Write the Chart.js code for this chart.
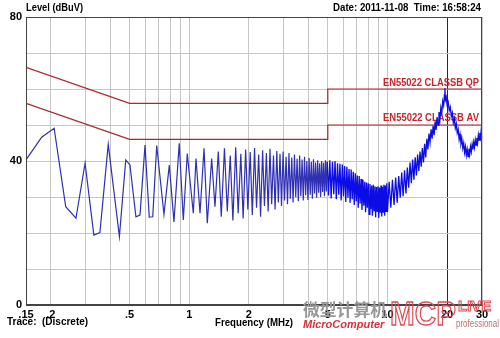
<!DOCTYPE html>
<html>
<head>
<meta charset="utf-8">
<script src="https://cdn.jsdelivr.net/npm/chart.js@4.4.1/dist/chart.umd.min.js"></script>
<style>
  html, body { margin: 0; padding: 0; background: #fff; }
  #c { display: block; }
</style>
</head>
<body>
<canvas id="c" width="500" height="338"></canvas>
<script>
// Trace (MHz, dBuV), rows of 10
const traceFreqs = [
  0.150, 0.180, 0.208, 0.238, 0.268, 0.298, 0.330, 0.354, 0.390, 0.444,
  0.478, 0.502, 0.538, 0.564, 0.598, 0.628, 0.654, 0.685, 0.745, 0.793,
  0.837, 0.890, 0.933, 0.977, 1.048, 1.081, 1.133, 1.187, 1.233, 1.297,
  1.348, 1.401, 1.450, 1.505, 1.555, 1.610, 1.660, 1.715, 1.765, 1.820,
  1.870, 1.925, 1.975, 2.030, 2.080, 2.135, 2.185, 2.240, 2.290, 2.345,
  2.395, 2.450, 2.500, 2.555, 2.605, 2.660, 2.710, 2.765, 2.815, 2.870,
  2.920, 2.975, 3.025, 3.080, 3.130, 3.185, 3.235, 3.290, 3.340, 3.395,
  3.445, 3.500, 3.550, 3.605, 3.655, 3.710, 3.760, 3.815, 3.865, 3.920,
  3.970, 4.025, 4.075, 4.130, 4.180, 4.235, 4.285, 4.340, 4.390, 4.445,
  4.495, 4.550, 4.600, 4.655, 4.705, 4.760, 4.810, 4.865, 4.915, 4.970,
  5.04, 5.12, 5.20, 5.28, 5.36, 5.44, 5.52, 5.60, 5.68, 5.76,
  5.84, 5.92, 6.00, 6.08, 6.16, 6.24, 6.32, 6.40, 6.48, 6.56,
  6.64, 6.72, 6.80, 6.88, 6.96, 7.04, 7.12, 7.20, 7.28, 7.36,
  7.44, 7.52, 7.60, 7.68, 7.76, 7.84, 7.92, 8.00, 8.08, 8.16,
  8.24, 8.32, 8.40, 8.48, 8.56, 8.64, 8.72, 8.80, 8.88, 8.96,
  9.04, 9.12, 9.20, 9.28, 9.36, 9.44, 9.52, 9.60, 9.68, 9.76,
  9.84, 9.92, 10.0, 10.2, 10.4, 10.6, 10.8, 11.0, 11.2, 11.4,
  11.6, 11.8, 12.0, 12.2, 12.4, 12.6, 12.8, 13.0, 13.2, 13.4,
  13.6, 13.8, 14.0, 14.2, 14.4, 14.6, 14.8, 15.0, 15.2, 15.4,
  15.6, 15.8, 16.0, 16.2, 16.4, 16.6, 16.8, 17.0, 17.2, 17.4,
  17.6, 17.8, 18.0, 18.2, 18.4, 18.6, 18.8, 19.0, 19.2, 19.4,
  19.5, 19.6, 19.8, 20.0, 20.25, 20.5, 20.75, 21.0, 21.25, 21.5,
  21.75, 22.0, 22.25, 22.5, 22.75, 23.0, 23.25, 23.5, 23.75, 24.0,
  24.25, 24.5, 24.75, 25.0, 25.25, 25.5, 25.75, 26.0, 26.25, 26.5,
  26.75, 27.0, 27.25, 27.5, 27.75, 28.0, 28.25, 28.5, 28.75, 29.0,
  29.25, 29.5, 29.75, 30.0
];
const traceLevels = [
  40.3, 46.6, 49.1, 27.3, 24.1, 39.4, 19.4, 20.1, 44.6, 19.0,
  40.3, 38.9, 24.5, 25.0, 44.4, 24.4, 24.5, 44.3, 25.2, 38.9,
  23.1, 44.9, 23.6, 42.1, 25.5, 40.7, 25.5, 43.5, 22.7, 40.7,
  27.3, 42.6, 24.5, 43.5, 26.0, 41.5, 23.5, 43.8, 25.5, 42.0,
  24.0, 43.2, 26.5, 42.5, 25.0, 43.6, 27.0, 41.8, 24.5, 43.0,
  27.5, 42.2, 26.0, 43.4, 28.0, 41.5, 26.5, 42.8, 28.5, 42.0,
  27.5, 42.6, 29.0, 41.2, 28.0, 42.2, 29.5, 41.0, 28.5, 41.8,
  30.0, 40.6, 28.8, 41.5, 30.2, 40.4, 29.0, 41.2, 30.5, 40.0,
  29.2, 40.8, 30.6, 39.8, 29.5, 40.5, 31.0, 39.6, 29.8, 40.2,
  31.2, 39.4, 30.0, 40.0, 31.4, 39.5, 30.2, 40.2, 31.5, 39.8,
  30.4, 40.2, 29.6, 39.8, 30.8, 40.0, 29.4, 39.4, 30.6, 39.2,
  29.0, 39.0, 30.2, 38.6, 28.6, 38.4, 29.8, 37.8, 28.4, 37.6,
  29.4, 37.0, 27.8, 36.6, 28.8, 36.0, 27.0, 35.8, 28.2, 35.0,
  26.4, 34.8, 27.6, 34.2, 25.8, 34.0, 27.0, 33.8, 25.2, 33.6,
  26.6, 33.2, 24.8, 33.4, 26.2, 33.0, 24.4, 32.8, 26.0, 33.0,
  24.2, 32.6, 25.6, 33.2, 24.6, 32.8, 25.8, 33.4, 24.8, 33.2,
  26.0, 33.8, 25.8, 34.2, 27.0, 34.8, 27.8, 35.4, 28.4, 35.8,
  29.8, 36.8, 30.2, 37.4, 31.0, 38.2, 32.6, 39.6, 33.8, 40.4,
  34.8, 41.0, 36.0, 41.8, 37.2, 42.6, 38.4, 43.6, 39.6, 44.8,
  41.0, 46.2, 43.2, 47.6, 45.2, 48.8, 46.2, 49.8, 47.2, 51.0,
  48.6, 52.2, 50.0, 53.6, 51.6, 54.8, 53.4, 56.6, 55.4, 58.4,
  60.2, 57.0, 57.8, 55.6, 56.4, 54.0, 55.0, 52.4, 53.4, 50.6,
  51.8, 49.2, 50.4, 47.8, 48.8, 46.0, 47.4, 44.8, 46.0, 43.6,
  45.0, 42.4, 44.0, 41.6, 43.2, 41.2, 43.4, 41.8, 44.0, 42.6,
  44.6, 43.2, 45.2, 43.8, 45.8, 44.4, 46.4, 45.0, 47.2, 45.8,
  47.8, 46.6, 48.8, 48.0
];
// above this frequency the sweep is drawn as a dense band
const denseFrom = 4.97;

// EN55022 class B limit lines
const limitFreqs = [0.15, 0.5, 5, 5, 30];
const qpLimit = [66, 56, 56, 60, 60];
const avLimit = [56, 46, 46, 50, 50];

// axes
const gridFreqs = [0.15, 0.2, 0.3, 0.4, 0.5, 0.6, 0.7, 0.8, 0.9,
  1, 2, 3, 4, 5, 6, 7, 8, 9, 10, 20, 30];
const xLabelFreqs = [0.15, 0.2, 0.5, 1, 2, 5, 10, 20, 30];
const xLabelText = ['.15', '.2', '.5', '1', '2', '5', '10', '20', '30'];
const yLabelValues = [0, 40, 80];

const FONT = 'Arial, "Liberation Sans", sans-serif';
Chart.defaults.font.family = FONT;

function pts(xs, ys) {
  return xs.map((x, i) => ({ x: x, y: ys[i] }));
}
const tracePts = pts(traceFreqs, traceLevels);

const textPlugin = {
  id: 'texts',
  beforeDatasetsDraw(chart) {
    const ctx = chart.ctx;
    const a = chart.chartArea;
    const ys = chart.scales.y;
    ctx.save();
    ctx.font = 'bold 10px ' + FONT;
    ctx.fillStyle = '#c4262c';
    ctx.textAlign = 'right';
    ctx.textBaseline = 'middle';
    ctx.fillText('EN55022 CLASSB QP', a.right - 3, ys.getPixelForValue(60) - 6, 96);
    ctx.fillText('EN55022 CLASSB AV', a.right - 3, ys.getPixelForValue(50) - 7, 96);
    ctx.restore();
  },
  afterDraw(chart) {
    const ctx = chart.ctx;
    const a = chart.chartArea;
    ctx.save();
    // frame
    ctx.strokeStyle = '#444';
    ctx.lineWidth = 1;
    ctx.strokeRect(a.left + 0.5, a.top + 0.5, a.right - a.left - 1, a.bottom - a.top - 1);

    ctx.fillStyle = '#000';
    ctx.font = 'bold 10px ' + FONT;
    ctx.textBaseline = 'middle';
    ctx.textAlign = 'left';
    ctx.fillText('Level (dBuV)', 26, 8, 57);
    ctx.fillText('Trace:  (Discrete)', 7, 322, 84);
    ctx.fillText('Frequency (MHz)', 215, 323, 78);
    ctx.textAlign = 'right';
    ctx.fillText('Date: 2011-11-08  Time: 16:58:24', 481, 8, 148);

    // watermark
    ctx.textAlign = 'left';
    ctx.fillStyle = '#979797';
    ctx.font = 'bold 17px "Noto Sans CJK SC"';
    ctx.fillText('微型计算机', 303, 310, 84);
    ctx.fillStyle = '#d6343a';
    ctx.font = 'italic bold 11px ' + FONT;
    ctx.fillText('MicroComputer', 303, 325, 84);
    ctx.strokeStyle = '#de4a50';
    ctx.lineWidth = 1.3;
    ctx.font = 'bold 34px ' + FONT;
    ctx.strokeText('MCP', 390, 316, 66);
    ctx.lineWidth = 1;
    ctx.font = 'bold 15px ' + FONT;
    ctx.strokeText('LIVE', 458, 307, 39);
    ctx.fillStyle = '#b87070';
    ctx.font = '10px ' + FONT;
    ctx.fillText('professional', 456, 324, 43);
    ctx.restore();
  }
};

new Chart(document.getElementById('c'), {
  type: 'line',
  data: {
    datasets: [
      {
        label: 'Trace (dense)',
        data: tracePts.filter(p => p.x >= denseFrom),
        borderColor: '#0c0ce6',
        borderWidth: 1.3,
        pointRadius: 0,
        tension: 0
      },
      {
        label: 'Trace',
        data: tracePts.filter(p => p.x <= denseFrom),
        borderColor: '#3030b4',
        borderWidth: 1.2,
        pointRadius: 0,
        tension: 0
      },
      {
        label: 'EN55022 CLASSB QP',
        data: pts(limitFreqs, qpLimit),
        borderColor: '#b0242a',
        borderWidth: 1.2,
        pointRadius: 0
      },
      {
        label: 'EN55022 CLASSB AV',
        data: pts(limitFreqs, avLimit),
        borderColor: '#a8282c',
        borderWidth: 1.2,
        pointRadius: 0
      }
    ]
  },
  options: {
    responsive: false,
    animation: false,
    layout: { padding: { top: 17, right: 18, left: 0, bottom: 0 } },
    plugins: { legend: { display: false }, tooltip: { enabled: false } },
    scales: {
      x: {
        type: 'logarithmic',
        min: 0.15,
        max: 30,
        afterBuildTicks: (scale) => { scale.ticks = gridFreqs.map(v => ({ value: v })); },
        afterFit: (scale) => { scale.height = 33; },
        ticks: {
          autoSkip: false,
          maxRotation: 0,
          padding: 3,
          color: '#000',
          font: { size: 11, weight: 'bold' },
          callback: (value) => {
            const i = xLabelFreqs.indexOf(value);
            return i >= 0 ? xLabelText[i] : '';
          }
        },
        grid: {
          drawTicks: false,
          color: (c) => (c.tick && c.tick.value === 20 ? '#2a2a2a' : '#c6c6c6')
        },
        border: { display: true, color: '#444' }
      },
      y: {
        min: 0,
        max: 80,
        afterFit: (scale) => { scale.width = 26; },
        ticks: {
          stepSize: 10,
          padding: 4,
          color: '#000',
          font: { size: 11, weight: 'bold' },
          callback: (v) => (yLabelValues.includes(v) ? String(v) : '')
        },
        grid: { drawTicks: false, color: '#c6c6c6' },
        border: { display: true, color: '#444' }
      }
    }
  },
  plugins: [textPlugin]
});
</script>
</body>
</html>
